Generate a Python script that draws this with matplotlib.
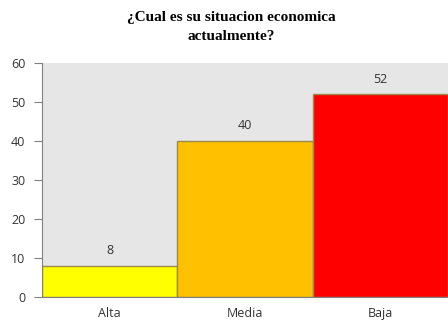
import matplotlib
matplotlib.use('Agg')
import matplotlib.pyplot as plt

categories = ['Alta', 'Media', 'Baja']
values = [8, 40, 52]
bar_colors = ['#FFFF00', '#FFC000', '#FF0000']
y_ticks = [0, 10, 20, 30, 40, 50, 60]


def main():
    fig = plt.figure(figsize=(4.48, 3.25), dpi=100, facecolor='white')
    ax = fig.add_axes([0.094, 0.086, 0.906, 0.72])
    ax.set_facecolor('#E6E6E6')

    xs = range(len(categories))
    bars = ax.bar(xs, values, width=1.0, color=bar_colors,
                  edgecolor='#9C8A4A', linewidth=1.0, zorder=2)
    for b, v in zip(bars, values):
        ax.text(b.get_x() + b.get_width() / 2, v + 2.2, str(v),
                ha='center', va='bottom', fontsize=9, color='#333333',
                family='Open Sans')

    ax.set_xlim(-0.5, len(categories) - 0.5)
    ax.set_ylim(0, 60)
    ax.set_yticks(y_ticks)
    ax.set_xticks(list(xs))
    ax.set_xticklabels(categories, family='Open Sans', fontsize=9, color='#333333')
    for lbl in ax.get_yticklabels():
        lbl.set_family('Open Sans')
        lbl.set_fontsize(9)
        lbl.set_color('#333333')
    ax.tick_params(axis='x', length=0, pad=7)
    ax.tick_params(axis='y', length=6, width=0.8, color='#808080', pad=6)

    for s in ('top', 'right'):
        ax.spines[s].set_visible(False)
    ax.spines['left'].set_color('#808080')
    ax.spines['bottom'].set_color('#808080')

    fig.suptitle(u'\u00bfCual es su situacion economica\nactualmente?',
                 x=0.517, y=0.966, fontsize=11, fontweight='bold',
                 family='Liberation Serif', linespacing=1.6, va='top')

    fig.savefig('out.png', dpi=100, facecolor='white')


if __name__ == "__main__":
    main()
